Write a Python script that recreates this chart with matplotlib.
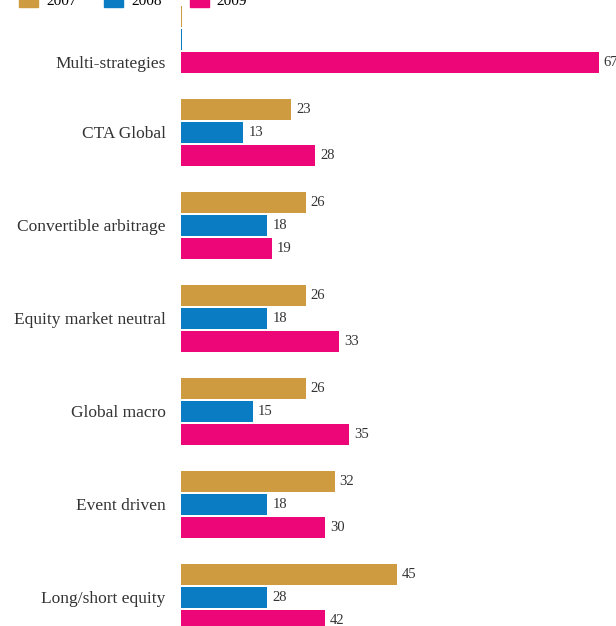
import numpy as np
import matplotlib
matplotlib.use("Agg")
import matplotlib.pyplot as plt
from matplotlib.patches import Patch

# data, top to bottom
strategies = ["Multi-strategies", "CTA Global", "Convertible arbitrage",
              "Equity market neutral", "Global macro", "Event driven",
              "Long/short equity"]
years = ["2007", "2008", "2009"]
# bar lengths as drawn
bars_2007 = [0.15, 23, 26, 26, 26, 32, 45]
bars_2008 = [0.15, 13, 18, 18, 15, 18, 18]
bars_2009 = [87, 28, 19, 33, 35, 30, 30]
# printed value labels
labels_2007 = ["", "23", "26", "26", "26", "32", "45"]
labels_2008 = ["", "13", "18", "18", "15", "18", "28"]
labels_2009 = ["67", "28", "19", "33", "35", "30", "42"]

colors = ["#CF9B41", "#0A7CC4", "#EC0677"]
serif = ["Liberation Serif", "DejaVu Serif"]

fig = plt.figure(figsize=(6.16, 6.26), dpi=100)
ax = fig.add_axes([0, 0, 1, 1])

y = np.arange(len(strategies))
offset = 0.247
height = 0.226
series = [(bars_2007, labels_2007), (bars_2008, labels_2008), (bars_2009, labels_2009)]
for k, (vals, labs) in enumerate(series):
    pos = y + (k - 1) * offset
    ax.barh(pos, vals, height=height, color=colors[k], linewidth=0)
    for p, v, t in zip(pos, vals, labs):
        if t:
            ax.annotate(t, (v, p), xytext=(3.5, 0), textcoords="offset points",
                        va="center", ha="left", fontsize=10.5,
                        family=serif, color="#333333")

# category label sits at the middle of the bars that are actually visible
all_bars = np.array([bars_2007, bars_2008, bars_2009])
for i, name in enumerate(strategies):
    seen = [(k - 1) * offset for k in range(3) if all_bars[k, i] > 1]
    ax.annotate(name, (0, y[i] + np.mean(seen)), xytext=(-11, -1),
                textcoords="offset points", va="center", ha="right",
                fontsize=12.5, family=serif, color="#333333")

ax.set_xlim(-181 / 4.8, (616 - 181) / 4.8)
ax.set_ylim(6.306, -0.425)
ax.axis("off")

handles = [Patch(color=c) for c in colors]
fig.legend(handles, years, loc="lower left", bbox_to_anchor=(0.031, 0.988),
           ncol=3, frameon=False, borderpad=0, borderaxespad=0,
           handlelength=1.24, handleheight=1.1, handletextpad=0.52,
           columnspacing=1.83, prop={"family": serif, "size": 11})

fig.savefig("out.png", dpi=100)
